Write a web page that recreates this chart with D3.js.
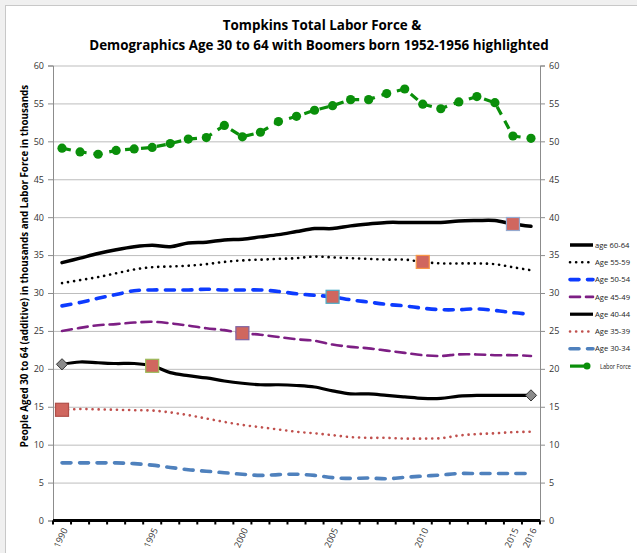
<!DOCTYPE html>
<html>
<head>
<meta charset="utf-8">
<script src="https://cdn.jsdelivr.net/npm/d3@7"></script>
<style>
body { margin: 0; background: #fff; }
text { font-family: "Open Sans", sans-serif; }
</style>
</head>
<body>
<div class="labor-chart"></div>
<script>
// categories and values (thousands)
const years = [1990, 1991, 1992, 1993, 1994, 1995, 1996, 1997, 1998, 1999, 2000, 2001, 2002, 2003,
               2004, 2005, 2006, 2007, 2008, 2009, 2010, 2011, 2012, 2013, 2014, 2015, 2016];
const age6064 = [34.0, 34.6, 35.2, 35.7, 36.1, 36.3, 36.1, 36.6, 36.7, 37.0, 37.1, 37.4, 37.7, 38.1,
                 38.5, 38.5, 38.85, 39.1, 39.3, 39.3, 39.3, 39.3, 39.5, 39.55, 39.55, 39.1, 38.8];
const age5559 = [31.3, 31.7, 32.1, 32.6, 33.1, 33.4, 33.5, 33.6, 33.8, 34.1, 34.3, 34.4, 34.5, 34.6,
                 34.8, 34.7, 34.6, 34.5, 34.4, 34.4, 34.1, 33.9, 33.9, 33.9, 33.8, 33.4, 33.0];
const age5054 = [28.3, 28.75, 29.3, 29.8, 30.3, 30.4, 30.4, 30.4, 30.5, 30.4, 30.4, 30.4, 30.2, 29.9,
                 29.7, 29.5, 29.1, 28.8, 28.5, 28.3, 28.0, 27.8, 27.8, 27.9, 27.7, 27.4, 27.2];
const age4549 = [25.0, 25.4, 25.75, 25.9, 26.1, 26.2, 26.0, 25.7, 25.35, 25.1, 24.7, 24.5, 24.2, 23.9,
                 23.7, 23.2, 22.9, 22.7, 22.4, 22.1, 21.8, 21.7, 21.9, 21.9, 21.8, 21.8, 21.7];
const age4044 = [20.6, 20.9, 20.8, 20.7, 20.7, 20.4, 19.5, 19.1, 18.8, 18.4, 18.1, 17.9, 17.9, 17.8,
                 17.6, 17.1, 16.7, 16.7, 16.5, 16.3, 16.1, 16.1, 16.4, 16.5, 16.5, 16.5, 16.5];
const age3539 = [14.6, 14.7, 14.65, 14.6, 14.55, 14.5, 14.25, 13.9, 13.45, 13.0, 12.6, 12.3, 12.0, 11.7,
                 11.5, 11.25, 11.0, 10.9, 10.9, 10.8, 10.8, 10.85, 11.2, 11.4, 11.5, 11.65, 11.7];
const age3034 = [7.6, 7.6, 7.6, 7.6, 7.5, 7.3, 7.0, 6.7, 6.5, 6.3, 6.1, 5.95, 6.05, 6.1,
                 5.95, 5.65, 5.55, 5.6, 5.5, 5.7, 5.85, 6.0, 6.2, 6.2, 6.2, 6.2, 6.2];
const laborForce = [49.1, 48.6, 48.3, 48.8, 49.0, 49.2, 49.7, 50.3, 50.5, 52.1, 50.6, 51.2, 52.6, 53.3,
                    54.1, 54.7, 55.5, 55.5, 56.3, 56.9, 54.9, 54.3, 55.2, 55.9, 55.1, 50.7, 50.4];
const yTicks = [0, 5, 10, 15, 20, 25, 30, 35, 40, 45, 50, 55, 60];
const xLabels = [1990, 1995, 2000, 2005, 2010, 2015, 2016];
// boomers born 1952-1956: the year they sit in each age group
const boomerYears = [2015, 2010, 2005, 2000, 1995, 1990];
const diamondYears = [1990, 2016];

const ageSeries = [
    {name: "age 60-64", values: age6064, color: "#000", w: 3.5, dash: null, boomer: boomerYears[0], edge: "#95a9cf"},
    {name: "Age 55-59", values: age5559, color: "#000", w: 2.6, dash: "0.1,6", boomer: boomerYears[1], edge: "#f79646"},
    {name: "Age 50-54", values: age5054, color: "#0d3bff", w: 3.6, dash: "9,8.5", boomer: boomerYears[2], edge: "#4bacc6"},
    {name: "Age 45-49", values: age4549, color: "#7d1f84", w: 2.6, dash: "10,6", boomer: boomerYears[3], edge: "#8064a2"},
    {name: "Age 40-44", values: age4044, color: "#000", w: 3.2, dash: null, boomer: boomerYears[4], edge: "#9bbb59"},
    {name: "Age 35-39", values: age3539, color: "#c0504d", w: 2.6, dash: "0.1,6", boomer: boomerYears[5], edge: "#b0504a"},
    {name: "Age 30-34", values: age3034, color: "#4f81bd", w: 3.6, dash: "9,8.5", boomer: null, edge: null}
];

const width = 637;
const height = 553;
const plotLeft = 53, plotRight = 540, plotTop = 65.5, plotBottom = 520.5;

const svg = d3.select(".labor-chart")
    .append("svg")
    .attr("width", width)
    .attr("height", height);

svg.append("rect").attr("width", width).attr("height", height).attr("fill", "#f0f0f0");
svg.append("rect")
    .attr("x", 5.5).attr("y", 5.5)
    .attr("width", width + 10).attr("height", height + 10)
    .attr("fill", "#fff").attr("stroke", "#c8c8c8");

const x = d3.scaleBand().domain(years).range([plotLeft, plotRight]);
const cx = d => x(d) + x.bandwidth() / 2;
const y = d3.scaleLinear().domain([0, 60]).range([plotBottom, plotTop]);

// gridlines
svg.append("g")
    .attr("transform", `translate(${plotLeft},0)`)
    .call(d3.axisLeft(y).tickValues(yTicks.slice(1)).tickSize(-(plotRight - plotLeft)).tickFormat(""))
    .call(g => g.select(".domain").remove())
    .selectAll("line").attr("stroke", "#bdbdbd");

// left and right axes
svg.append("g")
    .attr("transform", `translate(${plotLeft},0)`)
    .call(d3.axisLeft(y).tickValues(yTicks).tickSize(5).tickPadding(4))
    .call(g => g.select(".domain").attr("stroke", "#8c8c8c"))
    .call(g => g.selectAll("line").attr("stroke", "#8c8c8c"))
    .selectAll("text").attr("font-size", "9px").attr("fill", "#333");

svg.append("g")
    .attr("transform", `translate(${plotRight},0)`)
    .call(d3.axisRight(y).tickValues(yTicks).tickSize(5).tickPadding(4))
    .call(g => g.select(".domain").attr("stroke", "#8c8c8c"))
    .call(g => g.selectAll("line").attr("stroke", "#8c8c8c"))
    .selectAll("text").attr("font-size", "9px").attr("fill", "#333");

// category axis: ticks on band edges, labels at centres
const edges = years.map(d => x(d)).concat([plotRight]);
svg.append("g")
    .selectAll("line")
    .data(edges)
    .enter()
    .append("line")
        .attr("x1", d => d).attr("x2", d => d)
        .attr("y1", plotBottom).attr("y2", plotBottom + 4)
        .attr("stroke", "#000").attr("stroke-width", 2);
svg.append("line")
    .attr("x1", plotLeft).attr("x2", plotRight)
    .attr("y1", plotBottom).attr("y2", plotBottom)
    .attr("stroke", "#000").attr("stroke-width", 3);
svg.append("g")
    .selectAll("text")
    .data(xLabels)
    .enter()
    .append("text")
        .attr("transform", d => `translate(${cx(d) + 3},${plotBottom + 8}) rotate(-65)`)
        .attr("text-anchor", "end")
        .attr("dy", "0.35em")
        .attr("font-size", "9px")
        .attr("fill", "#333")
        .text(d => d);

// age series (smoothed)
const smooth = d3.line()
    .x((d, i) => cx(years[i]))
    .y(d => y(d))
    .curve(d3.curveCatmullRom.alpha(0.5));

svg.append("g")
    .selectAll("path")
    .data(ageSeries)
    .enter()
    .append("path")
        .attr("d", d => smooth(d.values))
        .attr("fill", "none")
        .attr("stroke", d => d.color)
        .attr("stroke-width", d => d.w)
        .attr("stroke-linecap", "round")
        .attr("stroke-dasharray", d => d.dash);

// labor force
const straight = d3.line().x((d, i) => cx(years[i])).y(d => y(d));
svg.append("path")
    .attr("d", straight(laborForce))
    .attr("fill", "none")
    .attr("stroke", "#0a8f0a")
    .attr("stroke-width", 3.2)
    .attr("stroke-dasharray", "9,7");
svg.append("g")
    .selectAll("circle")
    .data(laborForce)
    .enter()
    .append("circle")
        .attr("cx", (d, i) => cx(years[i]))
        .attr("cy", d => y(d))
        .attr("r", 4.6)
        .attr("fill", "#0a8f0a");

// gray diamonds on age 40-44 ends
svg.append("g")
    .selectAll("path")
    .data(diamondYears)
    .enter()
    .append("path")
        .attr("d", d3.symbol(d3.symbolDiamond2, 80))
        .attr("transform", d => `translate(${cx(d)},${y(age4044[years.indexOf(d)])})`)
        .attr("fill", "#8a8a8a")
        .attr("stroke", "#333")
        .attr("stroke-width", 1);

// boomer squares
const boomers = ageSeries.filter(s => s.boomer !== null);
svg.append("g")
    .selectAll("rect")
    .data(boomers)
    .enter()
    .append("rect")
        .attr("x", d => cx(d.boomer) - 6.5)
        .attr("y", d => y(d.values[years.indexOf(d.boomer)]) - 6.5)
        .attr("width", 13)
        .attr("height", 13)
        .attr("fill", "#d0675f")
        .attr("stroke", d => d.edge)
        .attr("stroke-width", 1.2);

// legend
const legend = svg.append("g");
const rows = ageSeries.map(d => ({name: d.name, color: d.color, w: d.w, dash: d.dash}));
rows.push({name: "Labor Force", color: "#0a8f0a", w: 3.2, dash: null, marker: true});
const rowY = i => 245 + i * 17.3;
legend.selectAll("line")
    .data(rows)
    .enter()
    .append("line")
        .attr("x1", 570).attr("x2", d => d.marker ? 587 : 593)
        .attr("y1", (d, i) => rowY(i)).attr("y2", (d, i) => rowY(i))
        .attr("stroke", d => d.color)
        .attr("stroke-width", d => d.w)
        .attr("stroke-linecap", d => d.dash ? "round" : "butt")
        .attr("stroke-dasharray", d => d.dash);
legend.append("circle")
    .attr("cx", 587).attr("cy", rowY(7)).attr("r", 3.5).attr("fill", "#0a8f0a");
legend.selectAll("text")
    .data(rows)
    .enter()
    .append("text")
        .attr("transform", (d, i) => d.marker
            ? `translate(600,${rowY(i)}) scale(0.74,1)`
            : `translate(595,${rowY(i)})`)
        .attr("dy", "0.35em")
        .attr("font-size", "7.6px")
        .attr("fill", "#222")
        .text(d => d.name);

// titles
svg.append("text")
    .attr("x", 322).attr("y", 30)
    .attr("text-anchor", "middle")
    .attr("font-size", "13.4px").attr("font-weight", "bold")
    .text("Tompkins Total Labor Force &");
svg.append("text")
    .attr("x", 319).attr("y", 50)
    .attr("text-anchor", "middle")
    .attr("font-size", "13.4px").attr("font-weight", "bold")
    .text("Demographics Age 30 to 64 with Boomers born 1952-1956 highlighted");
svg.append("text")
    .attr("transform", "translate(25,266) rotate(-90)")
    .attr("text-anchor", "middle")
    .attr("dy", "0.35em")
    .attr("font-size", "9.8px").attr("font-weight", "bold")
    .text("People Aged 30 to 64 (additive) in thousands and Labor Force in thousands");
</script>
</body>
</html>
